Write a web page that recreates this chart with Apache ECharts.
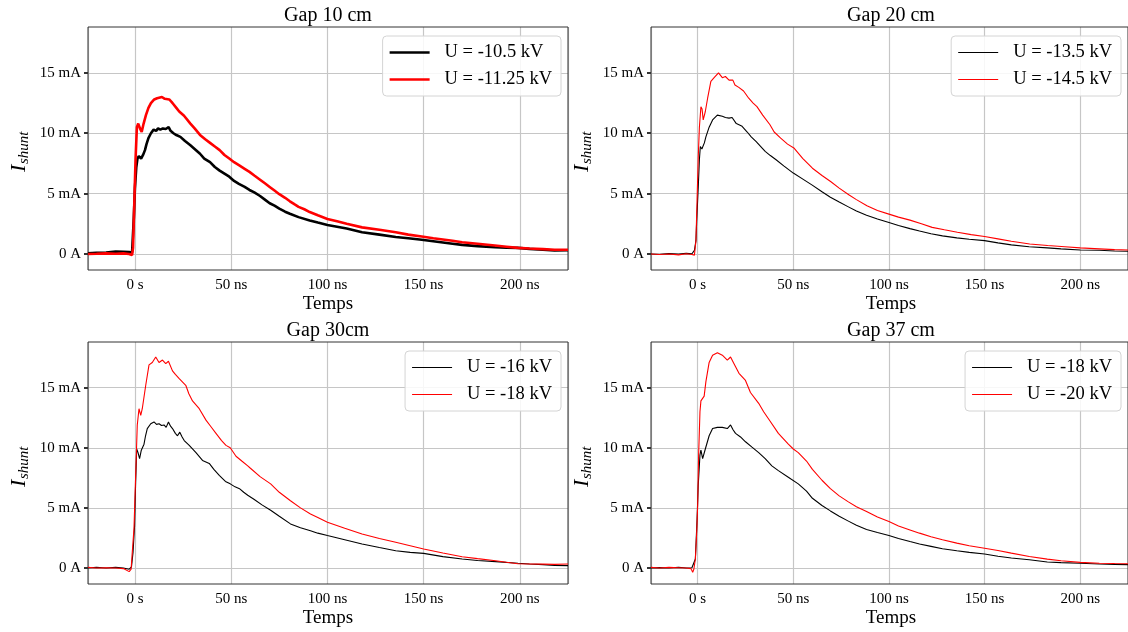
<!DOCTYPE html>
<html><head><meta charset="utf-8">
<script src="https://cdn.jsdelivr.net/npm/echarts@6/dist/echarts.min.js"></script>
<style>html,body{margin:0;padding:0;background:#fff}#c{width:1128px;height:632px}</style>
</head><body><div id="c"></div>
<script>
const FONT = "'Liberation Serif', 'DejaVu Serif', serif";
const panelTitles = ['Gap 10 cm', 'Gap 20 cm', 'Gap 30cm', 'Gap 37 cm'];
const lowNames = ['U = -10.5 kV', 'U = -13.5 kV', 'U = -16 kV', 'U = -18 kV '];
const highNames = ['U = -11.25 kV', 'U = -14.5 kV', 'U = -18 kV', 'U = -20 kV'];
const xLabel = 'Temps';
const xTickValues = [0, 50, 100, 150, 200];
const yTickValues = [0, 5, 10, 15];

// [time (ns), current (mA)]
const gap10Low = [[-24.4,0.05],[-20,0.1],[-15,0.12],[-10,0.2],[-6,0.18],[-3,0.15],[-1.5,0.12],[-0.6,3.0],[0,5.5],[0.7,7.2],[1.3,7.9],[2,8.1],[3.2,7.9],[4.2,8.2],[5.2,8.6],[6,9.1],[7,9.6],[8.3,10.0],[9.7,10.3],[11,10.2],[12,10.4],[13.2,10.3],[14.5,10.4],[16,10.35],[17.5,10.5],[18.5,10.2],[20,10.0],[21.5,9.85],[23.6,9.7],[26,9.35],[28.8,9.0],[31,8.7],[33.8,8.3],[36,7.9],[39,7.6],[41.5,7.2],[44,6.9],[46.5,6.65],[49,6.4],[51.5,6.05],[54,5.8],[57,5.55],[59.5,5.3],[62,5.1],[65,4.8],[67.5,4.5],[70,4.2],[72.5,4.0],[75,3.75],[78,3.5],[80.5,3.33],[85,3.05],[90.8,2.78],[95,2.6],[100,2.4],[105,2.25],[110,2.1],[118,1.8],[127,1.6],[135.5,1.4],[142,1.3],[149,1.17],[155,1.05],[160,0.95],[165,0.85],[170,0.75],[178,0.65],[187,0.55],[193,0.52],[199,0.5],[205,0.42],[212,0.35],[218,0.28],[225,0.3]];
const gap10High = [[-24.4,0.0],[-20,0.02],[-15,0.05],[-10,0.02],[-6,0.05],[-3,0.0],[-1.5,-0.1],[-1,0.5],[-0.2,5.0],[0.3,7.8],[1.0,10.5],[1.7,10.8],[2.6,10.4],[3.5,10.1],[4.5,10.8],[5.7,11.5],[7,12.1],[8.3,12.5],[10,12.8],[11.5,12.9],[12.5,12.75],[14,13.0],[15.5,12.85],[16.5,13.0],[17.8,12.8],[19,12.6],[20,12.4],[21.5,12.1],[23,11.8],[25.5,11.45],[28.8,10.8],[31,10.4],[33.8,9.86],[36.5,9.5],[39,9.2],[41.5,8.9],[44,8.6],[46.5,8.2],[49,7.9],[51.5,7.6],[54,7.35],[57,7.05],[59.5,6.8],[62,6.5],[65,6.15],[67.5,5.85],[70,5.55],[72.5,5.25],[75,4.95],[78,4.65],[80.5,4.36],[83,4.1],[85,3.9],[88,3.7],[90.8,3.47],[95,3.2],[100,2.9],[105,2.7],[110,2.5],[118,2.2],[127,2.0],[135.5,1.8],[142,1.6],[149,1.45],[155,1.3],[160,1.2],[165,1.1],[170,0.97],[178,0.85],[187,0.7],[193,0.6],[199,0.5],[205,0.45],[212,0.4],[218,0.35],[225,0.35]];
const gap20Low = [[-24.4,0.0],[-20,-0.02],[-15,0.03],[-10,0.0],[-6,0.05],[-3,0.02],[-1.7,0.3],[-0.9,1.1],[-0.5,2.8],[0.3,5.5],[0.9,7.8],[1.4,8.9],[2.2,8.7],[3.5,9.2],[4.3,9.7],[6,10.5],[7.8,11.1],[10.3,11.5],[12.9,11.4],[14.5,11.3],[16.4,11.25],[18,11.3],[20.2,10.8],[23,10.6],[25.9,10.1],[28,9.7],[30.6,9.3],[33,8.9],[35.3,8.5],[38,8.15],[41,7.8],[45,7.3],[50,6.7],[55,6.2],[59.9,5.7],[65,5.15],[69.4,4.7],[74,4.3],[78.8,3.9],[83,3.55],[88.3,3.2],[94,2.9],[100,2.6],[105,2.35],[111,2.1],[116,1.9],[122,1.67],[128,1.5],[135.5,1.33],[142,1.22],[150,1.1],[157,0.92],[164,0.75],[173.3,0.6],[182.8,0.5],[190,0.42],[200,0.33],[210,0.3],[218,0.25],[225,0.22]];
const gap20High = [[-24.4,0.0],[-20,-0.05],[-15,0.0],[-10,-0.08],[-6,0.02],[-3,-0.05],[-1.7,-0.1],[-0.9,1.1],[-0.3,4.5],[0.3,8.0],[0.9,10.5],[1.7,12.2],[2.3,12.0],[2.9,11.1],[4,11.8],[5.2,12.9],[6.9,14.3],[8.6,14.6],[10.9,15.0],[12.9,14.6],[14.5,14.7],[16.4,14.4],[18.4,14.4],[19.5,14.0],[21.5,13.8],[24,13.5],[26.7,12.9],[29,12.5],[31,12.2],[34,11.5],[37.8,10.7],[40,10.1],[43.4,9.6],[47,9.1],[50.5,8.75],[55,7.9],[60,7.1],[65,6.5],[69.5,6.0],[74,5.45],[79,4.9],[83,4.5],[88.5,4.0],[94,3.6],[100,3.3],[105,3.05],[111,2.8],[117,2.5],[122.6,2.2],[129,2.0],[135.8,1.8],[143,1.6],[150,1.45],[157,1.25],[164,1.05],[173.6,0.83],[183,0.7],[192,0.6],[200,0.5],[210,0.42],[218,0.36],[225,0.33]];
const gap30Low = [[-24.4,0.0],[-20,0.05],[-15,0.0],[-10,0.05],[-6,0.0],[-3,-0.1],[-1.8,0.1],[-1,1.3],[-0.2,3.5],[0.3,6.8],[0.9,9.9],[1.6,9.6],[2.4,9.1],[3.3,9.8],[4.7,10.3],[5.5,11.0],[6.4,11.6],[8.2,12.0],[9.9,12.15],[11.2,11.95],[12.5,12.0],[13.8,11.85],[15.1,11.9],[16.2,11.7],[17.4,12.15],[18.5,11.8],[19.5,11.6],[21,11.2],[22.1,11.0],[23.3,11.3],[24.5,10.9],[25.6,10.6],[28.2,10.2],[31.7,9.6],[35.1,8.95],[38.6,8.7],[41,8.2],[43.8,7.7],[47,7.2],[49.5,7.0],[52,6.75],[54.3,6.6],[56.5,6.3],[58.6,6.05],[62,5.7],[66,5.25],[70.5,4.8],[75,4.3],[80.8,3.67],[86,3.35],[91.2,3.1],[95,2.9],[100,2.7],[109,2.35],[118,2.0],[127,1.7],[135.5,1.44],[143,1.3],[150,1.22],[160,0.95],[170,0.75],[178,0.62],[187.4,0.53],[199,0.39],[205,0.33],[212,0.28],[218,0.22],[225,0.2]];
const gap30High = [[-24.4,0.05],[-20,0.0],[-15,0.02],[-10,0.0],[-6,-0.05],[-3,-0.3],[-2,-0.1],[-1.4,1.3],[-0.5,3.3],[0.3,7.4],[1.2,11.9],[2.1,13.25],[3,12.7],[3.8,13.25],[5.6,15.2],[7.3,16.9],[9,17.1],[10.8,17.55],[12.5,17.1],[14.3,17.3],[16,17.0],[17.4,17.2],[19.5,16.4],[21,16.1],[23,15.75],[26.4,15.2],[28,14.5],[29.9,13.9],[33.4,13.25],[36.9,12.3],[39.5,11.75],[42.1,11.2],[45,10.6],[47.3,10.2],[49.5,10.0],[52.5,9.3],[55.5,8.9],[58.6,8.5],[60,8.3],[65,7.6],[70.5,7.0],[75,6.3],[80.8,5.6],[86,5.0],[91.2,4.5],[95,4.2],[100,3.8],[109,3.3],[118,2.83],[127,2.45],[135.5,2.14],[143,1.85],[150,1.58],[160,1.25],[170,0.94],[178,0.78],[187.4,0.6],[193,0.48],[199,0.36],[205,0.33],[212,0.32],[218,0.3],[225,0.33]];
const gap37Low = [[-24.4,0.0],[-20,0.03],[-15,0.0],[-10,0.05],[-6,0.0],[-3,0.02],[-2,-0.05],[-1.2,0.75],[-0.3,4.1],[0.3,6.9],[1.2,9.4],[1.7,9.8],[2.6,9.1],[4,9.9],[6,11.0],[7.8,11.6],[10.3,11.7],[12.9,11.7],[15.5,11.6],[17.2,11.9],[18.5,11.5],[19.8,11.2],[22.4,10.9],[25,10.5],[28.4,10.05],[31.9,9.6],[35.3,9.1],[38.8,8.5],[42.2,8.1],[47.4,7.55],[52.6,7.0],[56.9,6.4],[60,5.8],[65,5.2],[69.4,4.75],[74,4.3],[78.8,3.9],[83,3.55],[88.3,3.2],[94,2.95],[100,2.7],[105,2.45],[111,2.2],[116,2.0],[122,1.8],[128,1.6],[135.5,1.43],[142,1.3],[150,1.16],[157,0.98],[164,0.83],[173.4,0.69],[182.8,0.5],[190,0.45],[200,0.39],[210,0.33],[218,0.3],[225,0.28]];
const gap37High = [[-24.4,0.05],[-20,0.0],[-15,0.05],[-10,0.02],[-6,0.0],[-3.5,-0.05],[-2.6,-0.35],[-2,-0.1],[-1.2,0.75],[-0.5,3.0],[0,5.2],[0.5,9.4],[1.2,13.0],[1.7,13.9],[2.6,13.75],[3.4,14.3],[4.3,15.5],[6,17.1],[7.8,17.7],[10.3,17.9],[12.9,17.7],[15.5,17.3],[17.2,17.55],[19,17.0],[21.6,16.2],[25,15.6],[27.6,14.6],[31.9,13.7],[34.5,13.0],[37.1,12.4],[42.2,11.2],[47.4,10.3],[50,9.9],[52.6,9.6],[56.9,8.9],[60,8.2],[65,7.3],[69.4,6.6],[74,6.0],[78.8,5.5],[83,5.1],[88.3,4.7],[94,4.25],[100,3.86],[105,3.5],[111,3.17],[116,2.9],[122,2.6],[128,2.35],[135.5,2.07],[142,1.85],[150,1.65],[157,1.45],[164,1.24],[173.4,0.96],[182.8,0.74],[190,0.6],[200,0.47],[210,0.4],[218,0.37],[225,0.36]];

const lows = [gap10Low, gap20Low, gap30Low, gap37Low];
const highs = [gap10High, gap20High, gap30High, gap37High];

const grids = [
  {left: 88, top: 27, width: 480, height: 243},
  {left: 651, top: 27, width: 480, height: 243},
  {left: 88, top: 342, width: 480, height: 242},
  {left: 651, top: 342, width: 480, height: 242}
];
const lineWidths = [2.6, 1.1, 1.1, 1.1];

const chart = echarts.init(document.getElementById('c'), null, {renderer: 'canvas'});
const xAxes = [], yAxes = [], series = [], legends = [], graphics = [];
grids.forEach((g, i) => {
  xAxes.push({
    type: 'value', gridIndex: i, min: -24.4, max: 225, splitNumber: 5,
    axisLine: {show: false, onZero: false}, axisTick: {show: false},
    axisLabel: {
      show: true, margin: 8, color: '#000', fontFamily: FONT, fontSize: 15,
      showMinLabel: false, showMaxLabel: false,
      formatter: v => (xTickValues.indexOf(v) < 0 ? '' : (v === 0 ? '0 s' : v + ' ns'))
    },
    splitLine: {show: true, lineStyle: {color: '#c6c6c6', width: 1.2}}
  });
  yAxes.push({
    type: 'value', gridIndex: i, min: -1.33, max: 18.8, splitNumber: 4,
    axisLine: {show: false, onZero: false},
    axisTick: {show: true, length: 4, customValues: yTickValues, lineStyle: {color: '#000', width: 1.6}},
    axisLabel: {
      show: true, margin: 7, color: '#000', fontFamily: FONT, fontSize: 15,
      showMinLabel: false, showMaxLabel: false,
      formatter: v => (yTickValues.indexOf(v) < 0 ? '' : (v === 0 ? '0 A' : v + ' mA'))
    },
    splitLine: {show: true, lineStyle: {color: '#c6c6c6', width: 1.2}}
  });
  series.push({
    type: 'line', name: lowNames[i], xAxisIndex: i, yAxisIndex: i, data: lows[i],
    symbol: 'none', showSymbol: false, z: 3, clip: true,
    lineStyle: {color: '#000000', width: lineWidths[i]}, itemStyle: {color: '#000000'}
  });
  series.push({
    type: 'line', name: highNames[i], xAxisIndex: i, yAxisIndex: i, data: highs[i],
    symbol: 'none', showSymbol: false, z: 4, clip: true,
    lineStyle: {color: '#ff0000', width: lineWidths[i]}, itemStyle: {color: '#ff0000'}
  });
  legends.push({
    data: [lowNames[i], highNames[i]], orient: 'vertical',
    right: (i % 2 === 0) ? 567 : 7, top: i < 2 ? 36 : 351,
    padding: [7, 9, 7, 7], itemGap: 8, itemWidth: 40, itemHeight: lineWidths[i] > 2 ? 2.6 : 1.2,
    icon: 'rect',
    backgroundColor: 'rgba(255,255,255,0.85)', borderColor: '#d4d4d4', borderWidth: 1, borderRadius: 4,
    selectedMode: false, z: 10,
    textStyle: {fontFamily: FONT, fontSize: 18.5, color: '#000', padding: [0, 0, 0, 10], lineHeight: 19},
    formatter: n => n.trim()
  });
  const cx = g.left + g.width / 2;
  graphics.push({type: 'text', x: cx, y: g.top - 11, style: {text: panelTitles[i], font: '20px ' + FONT, fill: '#000', textAlign: 'center', textVerticalAlign: 'middle'}});
  graphics.push({type: 'text', x: cx, y: g.top + g.height + 34, style: {text: xLabel, font: '19px ' + FONT, fill: '#000', textAlign: 'center', textVerticalAlign: 'middle'}});
  graphics.push({
    type: 'group', x: g.left - 69, y: g.top + 125, rotation: Math.PI / 2,
    children: [
      {type: 'text', x: -20, y: 0, style: {text: 'I', font: 'italic 22px ' + FONT, fill: '#000', textAlign: 'left', textVerticalAlign: 'middle'}},
      {type: 'text', x: -12, y: 5, style: {text: 'shunt', font: 'italic 15px ' + FONT, fill: '#000', textAlign: 'left', textVerticalAlign: 'middle'}}
    ]
  });
});

chart.setOption({
  animation: false,
  backgroundColor: '#ffffff',
  grid: grids.map(g => Object.assign({show: true, z: 1, borderColor: '#333', borderWidth: 1, backgroundColor: 'transparent'}, g)),
  xAxis: xAxes,
  yAxis: yAxes,
  legend: legends,
  series: series,
  graphic: graphics
});
</script></body></html>
